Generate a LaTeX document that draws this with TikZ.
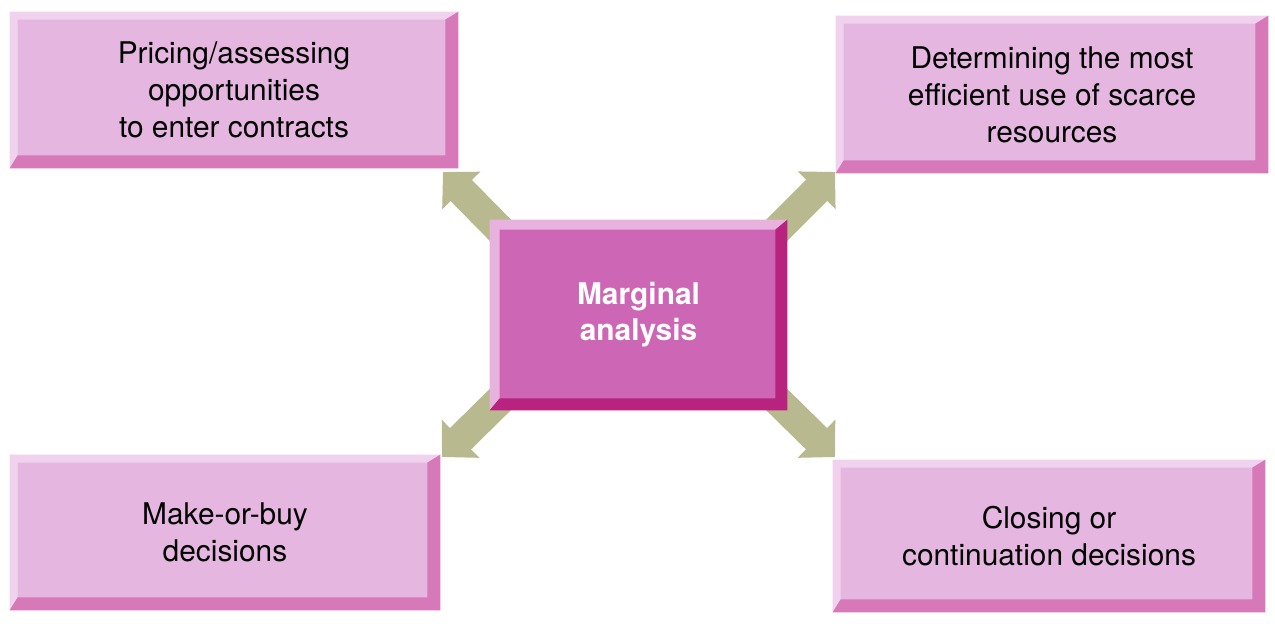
\documentclass[tikz,border=0pt]{standalone}
\usepackage{fontspec}
\setmainfont{TeX Gyre Heros}
\usetikzlibrary{arrows.meta,calc,backgrounds}

\definecolor{Petal}{HTML}{E5B7E0}
\definecolor{PetalLight}{HTML}{F0D2EE}
\definecolor{PetalDark}{HTML}{D778B9}
\definecolor{Core}{HTML}{CD66B4}
\definecolor{CoreLight}{HTML}{E8B2DE}
\definecolor{CoreDark}{HTML}{B8237F}
\definecolor{Khaki}{HTML}{B8B98E}

\tikzstyle{Outer} = [fill=Petal,
                     rectangle,
                     inner sep=0pt,
                     align=center,
                     font=\fontsize{17}{21}\selectfont]
\tikzstyle{Centre} = [fill=Core,
                      rectangle,
                      inner sep=0pt,
                      align=center,
                      text=white,
                      font=\fontsize{17}{20.5}\selectfont\bfseries]
\tikzstyle{Link} = [draw=Khaki,
                    line width=0.6cm,
                    -{Triangle[length=0.52cm,width=1.04cm]}]

% bevel round a node: name, light colour, dark colour, light width, dark width
\newcommand{\bevel}[5]{%
  \fill[#2] (#1.south west) -- (#1.north west) -- (#1.north east)
    -- ($(#1.north east)+(-#5,-#4)$) -- ($(#1.north west)+(#4,-#4)$)
    -- ($(#1.south west)+(#4,#5)$) -- cycle;
  \fill[#3] (#1.south west) -- (#1.south east) -- (#1.north east)
    -- ($(#1.north east)+(-#5,-#4)$) -- ($(#1.south east)+(-#5,#5)$)
    -- ($(#1.south west)+(#4,#5)$) -- cycle;
}

\begin{document}
\begin{tikzpicture}

	\useasboundingbox (0, 0) rectangle (25.5, 12.48);

	% Box nodes
	\node(pricing) at (4.68, 10.68) [Outer, minimum width=8.96cm, minimum height=3.12cm]{Pricing/assessing \\ opportunities \\ to enter contracts};
	\node(scarce) at (21.04, 10.59) [Outer, minimum width=8.64cm, minimum height=3.14cm]{Determining the most \\ efficient use of scarce \\ resources};
	\node(makebuy) at (4.5, 1.83) [Outer, minimum width=8.6cm, minimum height=3.1cm]{Make-or-buy \\ decisions};
	\node(closing) at (20.98, 1.76) [Outer, minimum width=8.64cm, minimum height=3.04cm]{Closing or \\ continuation decisions};
	\node(marginal) at (12.77, 6.18) [Centre, minimum width=5.94cm, minimum height=3.8cm]{Marginal \\ analysis};

	% Bevels
	\bevel{pricing}{PetalLight}{PetalDark}{0.16}{0.26}
	\bevel{scarce}{PetalLight}{PetalDark}{0.16}{0.26}
	\bevel{makebuy}{PetalLight}{PetalDark}{0.16}{0.26}
	\bevel{closing}{PetalLight}{PetalDark}{0.16}{0.26}
	\bevel{marginal}{CoreLight}{CoreDark}{0.2}{0.24}

	% Arrow tips
	\coordinate(pricingTip) at (8.86, 9.04);
	\coordinate(scarceTip) at (16.70, 9.04);
	\coordinate(makebuyTip) at (8.84, 3.34);
	\coordinate(closingTip) at (16.70, 3.34);

	% Lines
	\begin{scope}[on background layer]
	\draw [Link] ($(marginal.north west)+(0.4,-0.4)$) -- (pricingTip);
	\draw [Link] ($(marginal.north east)+(-0.4,-0.4)$) -- (scarceTip);
	\draw [Link] ($(marginal.south west)+(0.4,0.4)$) -- (makebuyTip);
	\draw [Link] ($(marginal.south east)+(-0.4,0.4)$) -- (closingTip);
	\end{scope}

\end{tikzpicture}
\end{document}
